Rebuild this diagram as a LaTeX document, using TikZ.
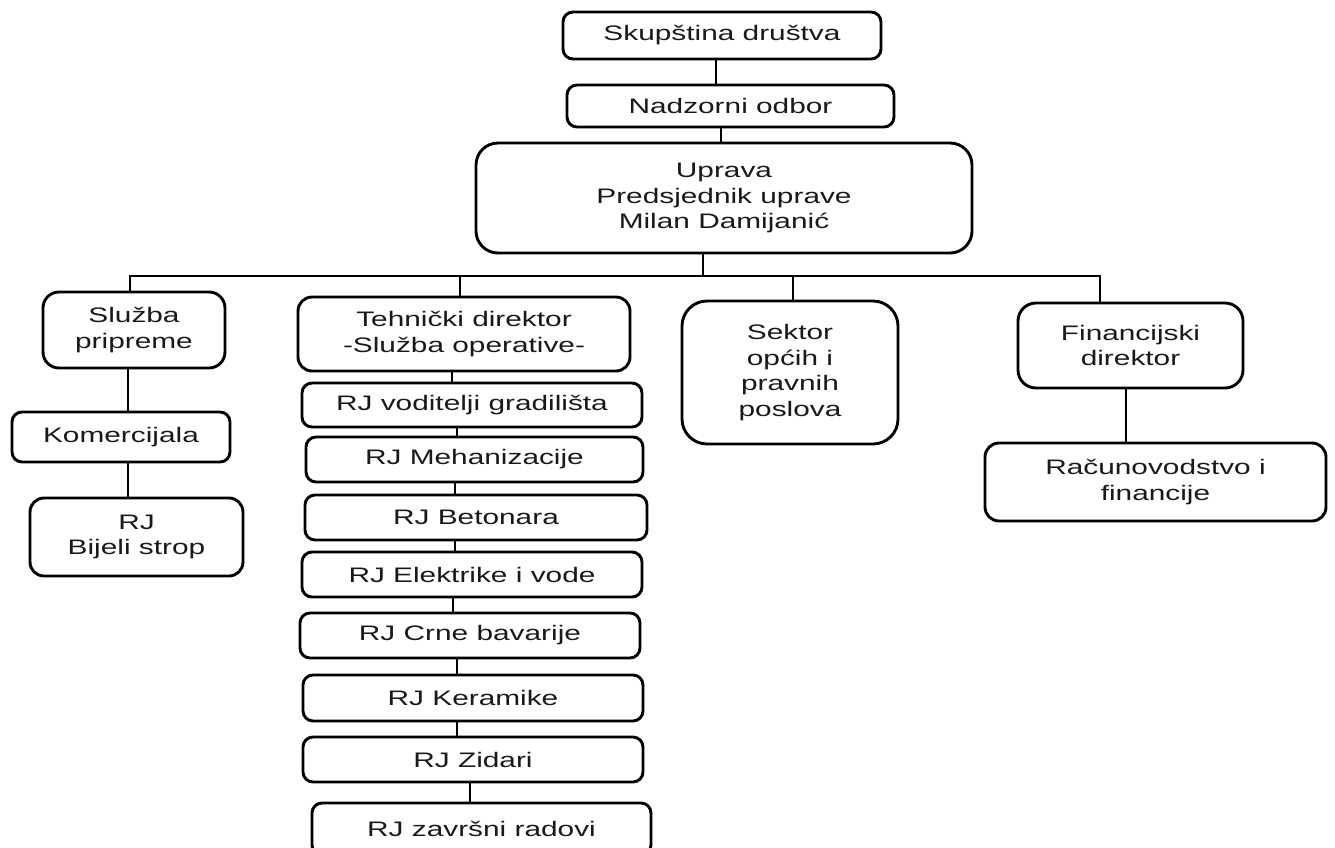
\documentclass[tikz,border=0pt]{standalone}
\usepackage{fontspec}
\setmainfont[FakeStretch=1.42]{Liberation Sans}
\begin{document}
\begin{tikzpicture}[x=1pt,y=-1pt,
  orgbox/.style={draw, line width=2.9pt, rounded corners=#1, inner sep=0pt, align=center,
    font=\fontsize{21}{25.5}\selectfont, text=black!90},
  orgbox/.default=10pt,
  link/.style={draw, line width=2.9pt}]
\useasboundingbox (0,0) rectangle (1335,847);
% top
\node[orgbox, minimum width=318pt, minimum height=47pt] (skup) at (722,35.5) {Skup\v{s}tina dru\v{s}tva};
\node[orgbox, minimum width=327pt, minimum height=42pt] (nadz) at (730.5,106) {Nadzorni odbor};
\node[orgbox=22pt, minimum width=496pt, minimum height=110pt] (uprava) at (724,198) {Uprava\\Predsjednik uprave\\Milan Damijani\'c};
% left branch
\node[orgbox=16pt, minimum width=182pt, minimum height=76pt] (sluzba) at (134,330) {Slu\v{z}ba\\pripreme};
\node[orgbox, minimum width=218pt, minimum height=50pt] (komerc) at (121,437) {Komercijala};
\node[orgbox=14pt, minimum width=213pt, minimum height=78pt] (bijeli) at (136.5,537) {RJ\\Bijeli strop};
% technical branch
\node[orgbox=14pt, minimum width=332pt, minimum height=74pt] (teh) at (464,334) {Tehni\v{c}ki direktor\\-Slu\v{z}ba operative-};
\node[orgbox, minimum width=340pt, minimum height=44pt] (vod) at (472,405) {RJ voditelji gradili\v{s}ta};
\node[orgbox, minimum width=337pt, minimum height=45pt] (meh) at (474.5,459.5) {RJ Mehanizacije};
\node[orgbox, minimum width=342pt, minimum height=45pt] (bet) at (476,517.5) {RJ Betonara};
\node[orgbox, minimum width=340pt, minimum height=45pt] (ele) at (472,574.5) {RJ Elektrike i vode};
\node[orgbox, minimum width=340pt, minimum height=45pt] (crne) at (470,635.5) {RJ Crne bavarije};
\node[orgbox, minimum width=340pt, minimum height=46pt] (ker) at (473,698) {RJ Keramike};
\node[orgbox, minimum width=340pt, minimum height=45pt] (zid) at (473,759.5) {RJ Zidari};
\node[orgbox, minimum width=339pt, minimum height=52pt] (zav) at (481.5,829) {RJ zavr\v{s}ni radovi};
% right
\node[orgbox=25pt, minimum width=216pt, minimum height=143pt] (sektor) at (790,372.5) {Sektor\\op\'cih i\\pravnih\\poslova};
\node[orgbox=18pt, minimum width=225pt, minimum height=85pt] (fin) at (1130.5,345.5) {Financijski\\direktor};
\node[orgbox=14pt, minimum width=341pt, minimum height=78pt] (rac) at (1155.5,482) {Ra\v{c}unovodstvo i\\financije};
% bus coordinates
\coordinate (busL) at (130,276);
\coordinate (busR) at (1100,276);
% connectors
\draw[link] ([xshift=-6pt]skup.south) -- ([xshift=-6pt]skup.south |- nadz.north);
\draw[link] ([xshift=-9.5pt]nadz.south) -- ([xshift=-9.5pt]nadz.south |- uprava.north);
\draw[link] ([xshift=-21pt]uprava.south) -- ([xshift=-21pt]uprava.south |- busL);
\draw[link] (busL |- sluzba.north) -- (busL) -- (busR) -- (busR |- fin.north);
\draw[link] ([xshift=-4pt]teh.north) -- ([xshift=-4pt]teh.north |- busL);
\draw[link] ([xshift=3pt]sektor.north) -- ([xshift=3pt]sektor.north |- busL);
\draw[link] ([xshift=-6pt]sluzba.south) -- ([xshift=-6pt]sluzba.south |- komerc.north);
\draw[link] ([xshift=7pt]komerc.south) -- ([xshift=7pt]komerc.south |- bijeli.north);
\draw[link] ([xshift=-12pt]teh.south) -- ([xshift=-12pt]teh.south |- vod.north);
\draw[link] ([xshift=-15pt]vod.south) -- ([xshift=-15pt]vod.south |- meh.north);
\draw[link] ([xshift=-19.5pt]meh.south) -- ([xshift=-19.5pt]meh.south |- bet.north);
\draw[link] ([xshift=-21pt]bet.south) -- ([xshift=-21pt]bet.south |- ele.north);
\draw[link] ([xshift=-19pt]ele.south) -- ([xshift=-19pt]ele.south |- crne.north);
\draw[link] ([xshift=-13pt]crne.south) -- ([xshift=-13pt]crne.south |- ker.north);
\draw[link] ([xshift=-16pt]ker.south) -- ([xshift=-16pt]ker.south |- zid.north);
\draw[link] ([xshift=-3pt]zid.south) -- ([xshift=-3pt]zid.south |- zav.north);
\draw[link] ([xshift=-4.5pt]fin.south) -- ([xshift=-4.5pt]fin.south |- rac.north);
\end{tikzpicture}
\end{document}
